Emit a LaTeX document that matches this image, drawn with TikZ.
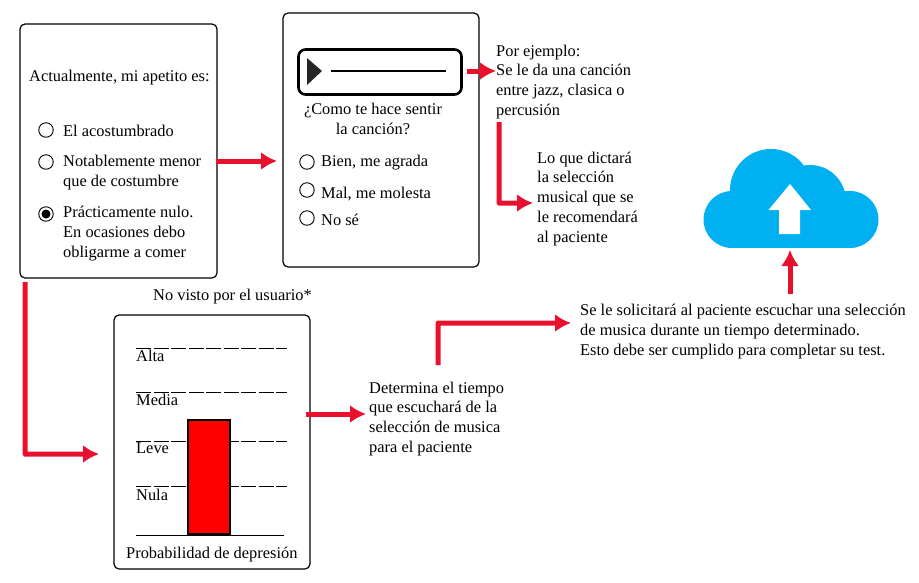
\documentclass[tikz,border=0pt]{standalone}
\usepackage{fontspec}
\setmainfont{Liberation Serif}
\usetikzlibrary{arrows.meta}
\definecolor{redarrow}{HTML}{E8112D}
\definecolor{cloudblue}{HTML}{00B0F0}
\tikzset{
  panel/.style={draw,rounded corners=5pt,line width=1.2pt},
  txt/.style={inner sep=0pt,anchor=west,align=left,yshift=-1.7pt,font=\fontsize{16.4}{19.7}\selectfont},
  radio/.style={draw,circle,line width=0.9pt,minimum size=14.5pt,inner sep=0pt},
  level/.style={line width=0.9pt,dash pattern=on 15pt off 2.5pt},
  redline/.style={-{Latex[length=16pt,width=18pt]},color=redarrow,line width=5pt,rounded corners=0.5pt}
}
\begin{document}
\begin{tikzpicture}[x=1pt,y=-1pt]
\useasboundingbox (0,0) rectangle (919,582);
% cuestionario
\node[panel,minimum width=197pt,minimum height=254pt] (P1) at (118.5,151) {};
\node[txt] (Q1) at (29,76) {Actualmente, mi apetito es:};
\node[radio] (R1) at (46,130) {};
\node[radio] (R2) at (46,162) {};
\node[radio] (R3) at (46,214) {};
\fill (R3.center) circle (4.5pt);
\node[txt] (T1) at (63,129) {El acostumbrado};
\node[txt] (T2) at (63,171) {Notablemente menor\\que de costumbre};
\node[txt] (T3) at (63,232) {Prácticamente nulo.\\En ocasiones debo\\obligarme a comer};
% cancion
\node[panel,minimum width=196pt,minimum height=254pt] (P2) at (381,140) {};
\node[draw,rounded corners=7pt,line width=2.6pt,minimum width=163pt,minimum height=45pt] (PL) at (380,72) {};
\fill[black!85] (307,58) -- (322,71) -- (307,85) -- cycle;
\draw[line width=1.2pt] (331,71) -- (446,71);
\node[txt,anchor=center,align=center] (Q2) at (373,117) {¿Como te hace sentir\\la canción?};
\node[radio] (R4) at (307,162) {};
\node[radio] (R5) at (307,190) {};
\node[radio] (R6) at (307,218) {};
\node[txt] (T4) at (321,161) {Bien, me agrada};
\node[txt] (T5) at (321,192) {Mal, me molesta};
\node[txt] (T6) at (321,218) {No sé};
\node[txt] (N1) at (496,80) {Por ejemplo:\\Se le da una canción\\entre jazz, clasica o\\percusión};
\node[txt] (N2) at (537,197) {Lo que dictará\\la selección\\musical que se\\le recomendará\\al paciente};
% probabilidad
\node[txt] (N3) at (153,295) {No visto por el usuario*};
\node[panel,minimum width=196pt,minimum height=254pt] (P3) at (212,442) {};
\foreach \y/\lab/\ly in {348/Alta/354.5,392/Media/398,441/Leve/447,486/Nula/493}{
  \draw[level] (136,\y) -- (287,\y);
  \node[txt] (L\lab) at (136,\ly) {\lab};
}
\draw[line width=0.9pt] (136,535) -- (284,535);
\node[draw,fill=red,line width=2.6pt,minimum width=42pt,minimum height=114pt,inner sep=0pt] (BAR) at (209,477) {};
\node[txt] (N4) at (126,553) {Probabilidad de depresión};
\node[txt] (N5) at (369,417) {Determina el tiempo\\que escuchará de la\\selección de musica\\para el paciente};
\node[txt] (N6) at (580,330) {Se le solicitará al paciente escuchar una selección\\de musica durante un tiempo determinado.\\Esto debe ser cumplido para completar su test.};
% nube
\node[minimum width=176pt,minimum height=99pt,inner sep=0pt] (CL) at (791,198.5) {};
\fill[cloudblue] (732,219.5) circle (28.5pt) (850,219.5) circle (28.5pt) (771,190) circle (41pt) (810,201) circle (36pt);
\fill[cloudblue] (732,191) rectangle (850,248);
\fill[white] (790,184) -- (811,210) -- (800,210) -- (800,234) -- (779,234) -- (779,210) -- (768.5,210) -- cycle;
% flechas
\coordinate (A1) at (216,161); \coordinate (A2) at (277,161);
\coordinate (B1) at (467,71); \coordinate (B2) at (496,71);
\coordinate (C1) at (499,122); \coordinate (C2) at (533,203);
\coordinate (D1) at (25,282); \coordinate (D2) at (99,454);
\coordinate (E1) at (306,414); \coordinate (E2) at (366,414);
\coordinate (F1) at (438,365); \coordinate (F2) at (571,323);
\coordinate (G1) at (790,294); \coordinate (G2) at (790,250);
\draw[redline] (A1) -- (A2);
\draw[redline] (B1) -- (B2);
\draw[redline] (C1) |- (C2);
\draw[redline] (D1) |- (D2);
\draw[redline] (E1) -- (E2);
\draw[redline] (F1) |- (F2);
\draw[redline] (G1) -- (G2);
\end{tikzpicture}
\end{document}
